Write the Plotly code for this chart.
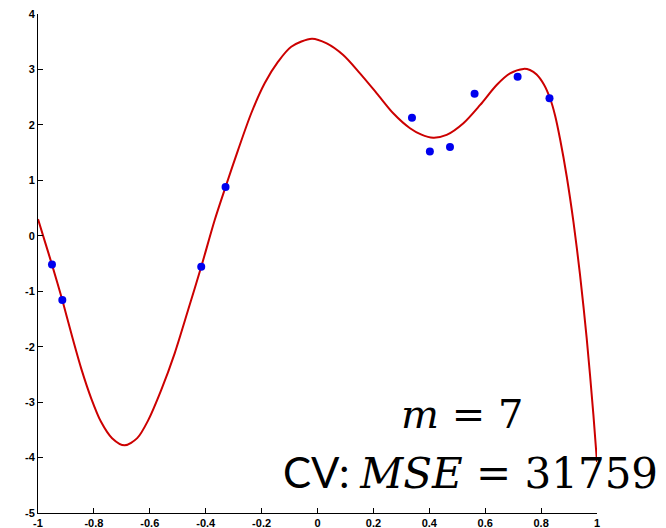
import plotly.graph_objects as go

# Observed data points
pts_x = [-0.950, -0.913, -0.416, -0.329, 0.338, 0.402, 0.474, 0.562, 0.716, 0.830]
pts_y = [-0.52, -1.16, -0.56, 0.88, 2.13, 1.52, 1.60, 2.56, 2.87, 2.48]

# Fitted polynomial curve (m = 7)
curve_x = [-1.000, -0.975, -0.950, -0.913, -0.881, -0.845, -0.809, -0.775, -0.735,
           -0.690, -0.645, -0.606, -0.559, -0.511, -0.463, -0.416,
           -0.368, -0.329, -0.284, -0.237, -0.189, -0.141, -0.094, -0.020,
           0.033, 0.092, 0.152, 0.212, 0.271, 0.331, 0.370, 0.414, 0.462, 0.522,
           0.582, 0.641, 0.689, 0.737, 0.760, 0.784, 0.810, 0.832, 0.850, 0.868,
           0.892, 0.916, 0.939, 0.963, 0.987, 1.000]
curve_y = [0.30, -0.11, -0.52, -1.16, -1.76, -2.40, -2.94, -3.35, -3.65,
           -3.78, -3.65, -3.33, -2.78, -2.12, -1.34, -0.56,
           0.28, 0.88, 1.55, 2.21, 2.75, 3.14, 3.41, 3.555,
           3.47, 3.26, 2.93, 2.57, 2.21, 1.94, 1.83, 1.77, 1.82, 2.03,
           2.36, 2.72, 2.93, 3.01, 2.99, 2.91, 2.73, 2.48, 2.17, 1.74,
           1.06, 0.24, -0.69, -1.84, -3.22, -4.08]

x_ticks = [-1, -0.8, -0.6, -0.4, -0.2, 0, 0.2, 0.4, 0.6, 0.8, 1]
x_ticktext = ["-1", "-0.8", "-0.6", "-0.4", "-0.2", "0", "0.2", "0.4", "0.6", "0.8", "1"]
y_ticks = [-5, -4, -3, -2, -1, 0, 1, 2, 3, 4]
y_ticktext = ["-5", "-4", "-3", "-2", "-1", "0", "1", "2", "3", "4"]

fig = go.Figure()
fig.add_trace(go.Scatter(
    x=curve_x, y=curve_y, mode="lines",
    line=dict(color="#cc0000", width=2, shape="spline", smoothing=0.8),
    hoverinfo="skip", showlegend=False))
fig.add_trace(go.Scatter(
    x=pts_x, y=pts_y, mode="markers",
    marker=dict(color="#0000ee", size=8),
    showlegend=False))

tick_font = dict(family="Liberation Sans", size=11, color="black")
fig.update_layout(
    width=666, height=528,
    margin=dict(l=38, r=69, t=14, b=15, autoexpand=False),
    paper_bgcolor="white", plot_bgcolor="white",
    xaxis=dict(range=[-1, 1], tickvals=x_ticks, ticktext=["<b>%s</b>" % t for t in x_ticktext],
               showgrid=False, zeroline=False, showline=True, linecolor="black", linewidth=1,
               ticks="inside", ticklen=5, tickcolor="black", tickfont=tick_font,
               automargin=False),
    yaxis=dict(range=[-5, 4], tickvals=y_ticks, ticktext=["<b>%s</b>" % t for t in y_ticktext],
               showgrid=False, zeroline=False, showline=True, linecolor="black", linewidth=1,
               ticks="inside", ticklen=5, tickcolor="black", tickfont=tick_font,
               automargin=False),
)

fig.add_annotation(
    xref="paper", yref="paper", x=0.758, y=0.148, xanchor="center", yanchor="bottom",
    text="<i>m</i> = 7", showarrow=False,
    font=dict(family="DejaVu Serif", size=40, color="black"))
fig.add_annotation(
    xref="paper", yref="paper", x=1.113, y=0.026, xanchor="right", yanchor="bottom",
    text="<span style='font-family:Lato'>CV: </span><i>MSE</i> = 31759", showarrow=False,
    font=dict(family="DejaVu Serif", size=42, color="black"))

fig.write_html("out.html")
